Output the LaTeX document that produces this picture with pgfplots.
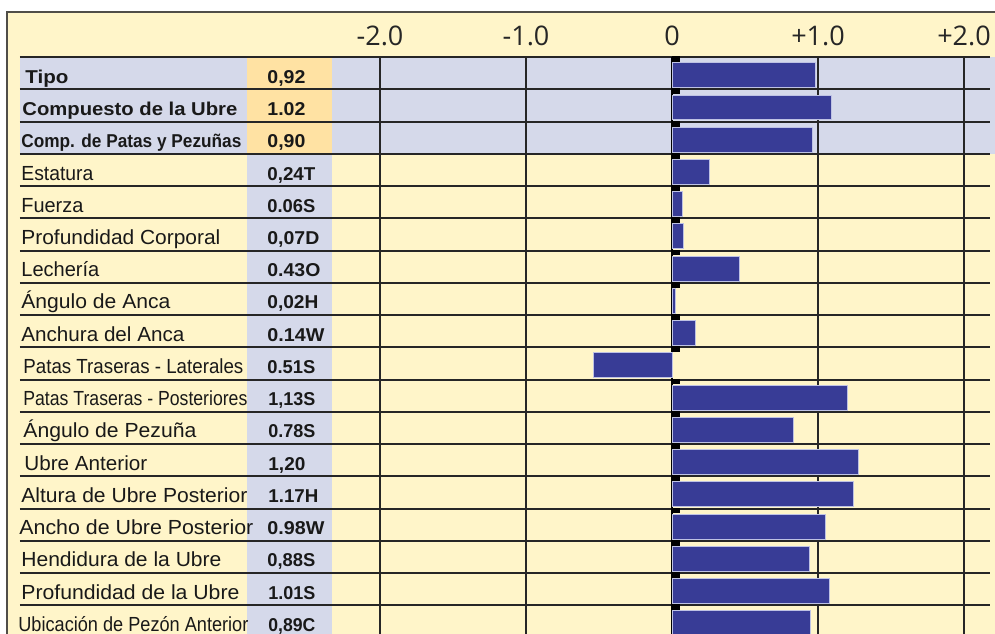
\documentclass[border=0pt]{standalone}
\usepackage{pgfplots}
\pgfplotsset{compat=1.18}
\usepackage{graphicx}
\usepackage{fontspec}
\setmainfont{Liberation Sans}
\newfontfamily\headfont{Open Sans}

\definecolor{cream}{RGB}{255,245,201}
\definecolor{lav}{RGB}{213,217,234}
\definecolor{peach}{RGB}{255,226,163}
\definecolor{barblue}{RGB}{56,60,150}
\definecolor{baredge}{RGB}{190,194,228}
\definecolor{rule}{RGB}{38,38,38}
\definecolor{framecol}{RGB}{80,78,72}

% pixel positions of the reference -> axis units
\newcommand\X[1]{((#1)-672)/146}
\newcommand\Y[1]{-((#1)-57)/32.24}

\newcommand\rfont{\fontsize{10.2}{11}\selectfont}
\newcommand\bfont{\bfseries\fontsize{9.3}{10}\selectfont}
\newcommand\vfont{\bfseries\fontsize{9.3}{10}\selectfont}

% row, left px, right px, text
\newcommand\lab[4]{\node[anchor=base west,inner sep=0pt,text=black!90]
  at (axis cs:{\X{#2}},{-(#1)+0.19}) {\resizebox{\dimexpr #3pt/2-#2pt/2\relax}{\height}{#4}};}

\begin{document}
\begin{tikzpicture}
\begin{axis}[
  width=497.5pt, height=316.5pt, scale only axis,
  xmin=-4.6027, xmax=2.2123,
  ymin=-17.866, ymax=1.768,
  axis on top,
  axis line style={draw=none},
  axis background/.style={fill=white},
  ytick=\empty,
  xtick={-2,-1,0,1,2},
  xticklabels={\mbox{-2.0},\mbox{-1.0},\mbox{0},\mbox{+1.0},\mbox{+2.0}},
  xticklabel pos=upper,
  major tick length=0pt,
  xticklabel style={anchor=base, yshift=-22.5pt, inner sep=0pt,
    font=\headfont\fontsize{13.5}{15}\selectfont, text=black!85},
]
% backgrounds
\fill[cream] (axis cs:{\X{7}},{\Y{12}}) rectangle (axis cs:{\X{1000}},{\Y{650}});
\fill[lav] (axis cs:{\X{20}},0) rectangle (axis cs:{\X{1000}},-3);
\fill[peach] (axis cs:{\X{247}},0) rectangle (axis cs:{\X{332}},-3);
\fill[lav] (axis cs:{\X{247}},-3) rectangle (axis cs:{\X{332}},{\Y{650}});

% frame
\draw[framecol, line width=1.2pt] (axis cs:{\X{7}},{\Y{650}}) -- (axis cs:{\X{7}},{\Y{12}}) -- (axis cs:{\X{1000}},{\Y{12}});

% row rules and vertical grid
\pgfplotsinvokeforeach{0,...,17}{
  \draw[rule, line width=1pt] (axis cs:{\X{20}},-#1) -- (axis cs:{\X{990}},-#1);
}
\pgfplotsinvokeforeach{-2,-1,1,2}{
  \draw[rule, line width=1pt] (axis cs:#1,0) -- (axis cs:#1,{\Y{650}});
}
\draw[black, line width=1.1pt] (axis cs:0,0) -- (axis cs:0,{\Y{650}});

% bars
\addplot[xbar, bar width=0.775, fill=barblue, draw=baredge, line width=0.5pt] coordinates {
  (0.985,-0.56) (1.09,-1.56) (0.96,-2.56) (0.26,-3.56) (0.07,-4.56) (0.08,-5.56)
  (0.46,-6.56) (0.025,-7.56) (0.16,-8.56) (-0.535,-9.56) (1.20,-10.56) (0.83,-11.56)
  (1.275,-12.56) (1.24,-13.56) (1.05,-14.56) (0.94,-15.56) (1.08,-16.56) (0.95,-17.56)
};

% small marks on the zero line
\pgfplotsinvokeforeach{0,...,17}{
  \fill[black] (axis cs:0,{-#1+0.03}) rectangle (axis cs:0.055,{-#1-0.15});
}

% names
\lab{1}{25}{68}{\bfont Tipo}
\lab{2}{22}{237}{\bfont Compuesto de la Ubre}
\lab{3}{21}{241}{\bfont Comp. de Patas y Pezuñas}
\lab{4}{21}{93}{\rfont Estatura}
\lab{5}{21}{83}{\rfont Fuerza}
\lab{6}{21}{220}{\rfont Profundidad Corporal}
\lab{7}{21}{99}{\rfont Lechería}
\lab{8}{21}{170}{\rfont Ángulo de Anca}
\lab{9}{21}{184}{\rfont Anchura del Anca}
\lab{10}{23}{243}{\rfont Patas Traseras - Laterales}
\lab{11}{23}{247}{\rfont Patas Traseras - Posteriores}
\lab{12}{23}{196}{\rfont Ángulo de Pezuña}
\lab{13}{24}{147}{\rfont Ubre Anterior}
\lab{14}{21}{247}{\rfont Altura de Ubre Posterior}
\lab{15}{19}{253}{\rfont Ancho de Ubre Posterior}
\lab{16}{21}{221}{\rfont Hendidura de la Ubre}
\lab{17}{21}{239}{\rfont Profundidad de la Ubre}
\lab{18}{18}{248}{\rfont Ubicación de Pezón Anterior}

% values
\lab{1}{267}{305}{\vfont 0,92}
\lab{2}{267}{305}{\vfont 1.02}
\lab{3}{267}{305}{\vfont 0,90}
\lab{4}{267}{315}{\vfont 0,24T}
\lab{5}{267}{315}{\vfont 0.06S}
\lab{6}{267}{319}{\vfont 0,07D}
\lab{7}{267}{320}{\vfont 0.43O}
\lab{8}{267}{318}{\vfont 0,02H}
\lab{9}{267}{324}{\vfont 0.14W}
\lab{10}{267}{315}{\vfont 0.51S}
\lab{11}{268}{315}{\vfont 1,13S}
\lab{12}{268}{315}{\vfont 0.78S}
\lab{13}{268}{305}{\vfont 1,20}
\lab{14}{268}{318}{\vfont 1.17H}
\lab{15}{267}{324}{\vfont 0.98W}
\lab{16}{267}{315}{\vfont 0,88S}
\lab{17}{268}{315}{\vfont 1.01S}
\lab{18}{268}{315}{\vfont 0,89C}
\end{axis}
\end{tikzpicture}
\end{document}
